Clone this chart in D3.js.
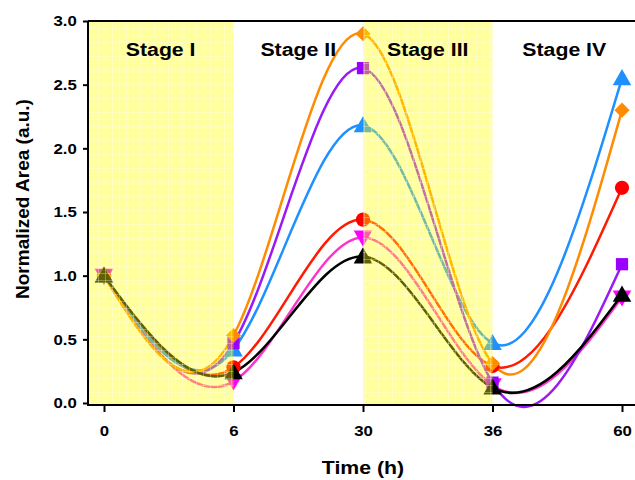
<!DOCTYPE html>
<html>
<head>
<meta charset="utf-8">
<script src="https://cdn.jsdelivr.net/npm/d3@7"></script>
<style>
html,body{margin:0;padding:0;background:#fff;}
svg text{font-family:"Liberation Sans",Arial,sans-serif;font-weight:bold;fill:#000;}
</style>
</head>
<body>
<svg id="chart" width="635" height="480"></svg>
<script>
// ---- data ----
const categories = ["0", "6", "30", "36", "60"];
const stageLabels = ["Stage I", "Stage II", "Stage III", "Stage IV"];
const yTicks = [0, 0.5, 1.0, 1.5, 2.0, 2.5, 3.0];

const redValues     = [1.0, 0.28, 1.44, 0.29, 1.69];
const magentaValues = [1.0, 0.17, 1.30, 0.14, 0.83];
const blueValues    = [1.0, 0.42, 2.18, 0.47, 2.55];
const purpleValues  = [1.0, 0.47, 2.63, 0.16, 1.09];
const orangeValues  = [1.0, 0.53, 2.90, 0.31, 2.30];
const blackValues   = [1.0, 0.24, 1.15, 0.12, 0.85];

const series = [
  {values: redValues,     line: "#FF1A00", fill: "#FF0000", sym: d3.symbolCircle,   size: 160, rot: 0},
  {values: magentaValues, line: "#FF33CC", fill: "#FF00FF", sym: d3.symbolTriangle, size: 150, rot: 180},
  {values: blueValues,    line: "#1E90FF", fill: "#1E90FF", sym: d3.symbolTriangle, size: 150, rot: 0},
  {values: purpleValues,  line: "#9A1AF5", fill: "#9A00FF", sym: d3.symbolSquare,   size: 150, rot: 0},
  {values: orangeValues,  line: "#FF8C00", fill: "#FF8C00", sym: d3.symbolSquare,   size: 115, rot: 45},
  {values: blackValues,   line: "#000000", fill: "#000000", sym: d3.symbolTriangle, size: 150, rot: 0}
];

// ---- layout ----
const svg = d3.select("#chart");
const pLeft = 88, pRight = 636, pTop = 21, pBottom = 405;
const stretch = 1.12;

const x = d3.scalePoint().domain(categories).range([104, 622]);
const y = d3.scaleLinear().domain([0, 3]).range([403, 21]);

// grid pattern for yellow bands
const defs = svg.append("defs");
const pat = defs.append("pattern").attr("id", "grid").attr("patternUnits", "userSpaceOnUse")
  .attr("width", 7).attr("height", 7);
pat.append("rect").attr("width", 7).attr("height", 7).attr("fill", "#FFFF00").attr("fill-opacity", 0.38);
pat.append("path").attr("d", "M0,0.5H7M0.5,0V7").attr("stroke", "#fff").attr("stroke-opacity", 0.3).attr("stroke-width", 1);

// lines
const line = d3.line().x((d, i) => x(categories[i])).y(d => y(d)).curve(d3.curveNatural);
const plot = svg.append("g");
series.forEach(s => {
  plot.append("path").attr("d", line(s.values)).attr("fill", "none")
    .attr("stroke", s.line).attr("stroke-width", 2.5);
});
series.forEach(s => {
  plot.selectAll(null).data(s.values).enter().append("path")
    .attr("d", d3.symbol().type(s.sym).size(s.size))
    .attr("transform", (d, i) => `translate(${x(categories[i])},${y(d) + (s.sym === d3.symbolTriangle ? (s.rot ? -1.5 : 1.5) : 0)}) rotate(${s.rot})`)
    .attr("fill", s.fill);
});

// yellow stage bands (drawn over lines, semi-transparent)
const step = x.step();
const bands = [[x(categories[0]) - step * 0.125, x(categories[1])], [x(categories[2]), x(categories[3])]];
svg.selectAll(".band").data(bands).enter().append("rect")
  .attr("x", d => d[0]).attr("y", pTop).attr("width", d => d[1] - d[0]).attr("height", pBottom - pTop)
  .attr("fill", "url(#grid)");

// frame
svg.append("line").attr("x1", pLeft).attr("x2", pRight).attr("y1", pTop).attr("y2", pTop).attr("stroke", "#000").attr("stroke-width", 2);
svg.append("line").attr("x1", pLeft).attr("x2", pRight).attr("y1", pBottom).attr("y2", pBottom).attr("stroke", "#000").attr("stroke-width", 2);
svg.append("line").attr("x1", pLeft).attr("x2", pLeft).attr("y1", pTop).attr("y2", pBottom + 1).attr("stroke", "#000").attr("stroke-width", 2);

// y axis
const yAxis = svg.append("g").attr("transform", `translate(${pLeft},0)`)
  .call(d3.axisLeft(y).tickValues(yTicks).tickFormat(d3.format(".1f")).tickSize(5).tickPadding(5));
yAxis.select(".domain").remove();
yAxis.selectAll(".tick line").attr("stroke-width", 2);
yAxis.selectAll(".tick text").style("font-size", "15px").style("font-family", "Liberation Sans, Arial, sans-serif")
  .style("font-weight", "bold").attr("transform", `scale(${stretch},1)`);

// x axis
const xAxis = svg.append("g").attr("transform", `translate(0,${pBottom})`)
  .call(d3.axisBottom(x).tickSize(7).tickPadding(13));
xAxis.select(".domain").remove();
xAxis.selectAll(".tick line").attr("stroke-width", 2);
xAxis.selectAll(".tick text").style("font-size", "15px").style("font-family", "Liberation Sans, Arial, sans-serif")
  .style("font-weight", "bold").attr("transform", `scale(${stretch},1)`);

// stage labels
const stageCenters = [
  (bands[0][0] + bands[0][1]) / 2,
  (x(categories[1]) + x(categories[2])) / 2,
  (x(categories[2]) + x(categories[3])) / 2,
  (x(categories[3]) + pRight) / 2
];
svg.selectAll(".stage").data(stageLabels).enter().append("text")
  .attr("transform", (d, i) => `translate(${stageCenters[i]},56) scale(${stretch},1)`)
  .attr("text-anchor", "middle").style("font-size", "19px").text(d => d);

// titles
svg.append("text").attr("transform", `translate(363,474) scale(${stretch},1)`).attr("text-anchor", "middle")
  .style("font-size", "19px").text("Time (h)");
svg.append("text").attr("transform", "translate(29,199) rotate(-90)").attr("text-anchor", "middle")
  .style("font-size", "19px").text("Normalized Area (a.u.)");
</script>
</body>
</html>
